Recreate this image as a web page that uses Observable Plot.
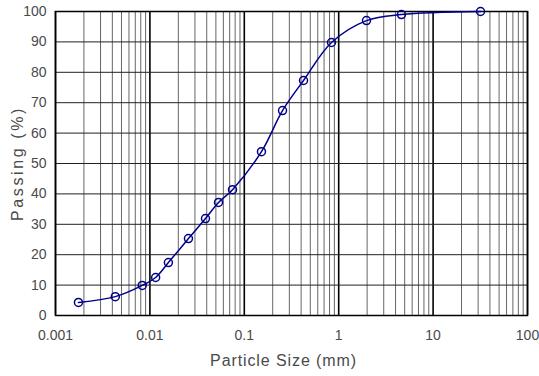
<!DOCTYPE html>
<html><head><meta charset="utf-8">
<script src="https://cdn.jsdelivr.net/npm/d3@7"></script>
<script src="https://cdn.jsdelivr.net/npm/@observablehq/plot@0.6"></script>
<style>
body{margin:0;background:#fff}
g[aria-label="x-axis label"] text{font-size:16px;letter-spacing:0.9px}
g[aria-label="y-axis label"] text{font-size:16px;letter-spacing:2.6px}
</style>
</head><body><div id="chart"></div>
<script>
const sizes = [0.00175,0.0043,0.0083,0.0115,0.0157,0.0256,0.0388,0.0533,0.075,0.152,0.254,0.424,0.839,1.97,4.62,31.8];
const passing = [4.3,6.2,9.9,12.5,17.4,25.3,31.9,37.2,41.4,53.9,67.4,77.3,89.8,97.0,99.0,100];
const decadeTicks = [0.001,0.01,0.1,1,10,100];
const decadeLabels = ["0.001","0.01","0.1","1","10","100"];
const yTicks = [0,10,20,30,40,50,60,70,80,90,100];
const minorMult = [2,3,4,5,6,7,8,9];

const data = sizes.map((s,i)=>({s, p: passing[i]}));
const minor = decadeTicks.slice(0,-1).flatMap(d => minorMult.map(m => d*m));

const chart = Plot.plot({
  width: 539, height: 376,
  marginLeft: 55, marginRight: 12, marginTop: 11, marginBottom: 61,
  style: {fontFamily: "Liberation Sans, sans-serif", fontSize: "14px", color: "#4a4a4a", background: "#fff"},
  x: {type: "log", domain: [0.001,100], ticks: decadeTicks, tickFormat: (d)=>decadeLabels[decadeTicks.indexOf(d)], tickSize: 0, tickPadding: 15, label: "Particle Size (mm)", labelAnchor: "center", labelOffset: 50, labelArrow: false},
  y: {domain: [0,100], ticks: yTicks, tickSize: 0, tickPadding: 9, label: "Passing (%)", labelAnchor: "center", labelOffset: 44, labelArrow: false},
  marks: [
    Plot.ruleX(minor, {stroke: "#666", strokeWidth: 1}),
    Plot.ruleX(decadeTicks, {stroke: "#000", strokeWidth: 1.6}),
    Plot.ruleY(yTicks, {stroke: "#222", strokeWidth: 1}),
    Plot.frame({stroke: "#000", strokeWidth: 1.5}),
    Plot.line(data, {x: "s", y: "p", curve: "catmull-rom", stroke: "#00008b", strokeWidth: 1.5}),
    Plot.dot(data, {x: "s", y: "p", r: 4, stroke: "#00008b", strokeWidth: 1.5, fill: "none"})
  ]
});
document.getElementById("chart").append(chart);
const xl = chart.querySelector('g[aria-label="x-axis label"] text');
if (xl) xl.setAttribute("dx", "-8");
</script>
</body></html>
